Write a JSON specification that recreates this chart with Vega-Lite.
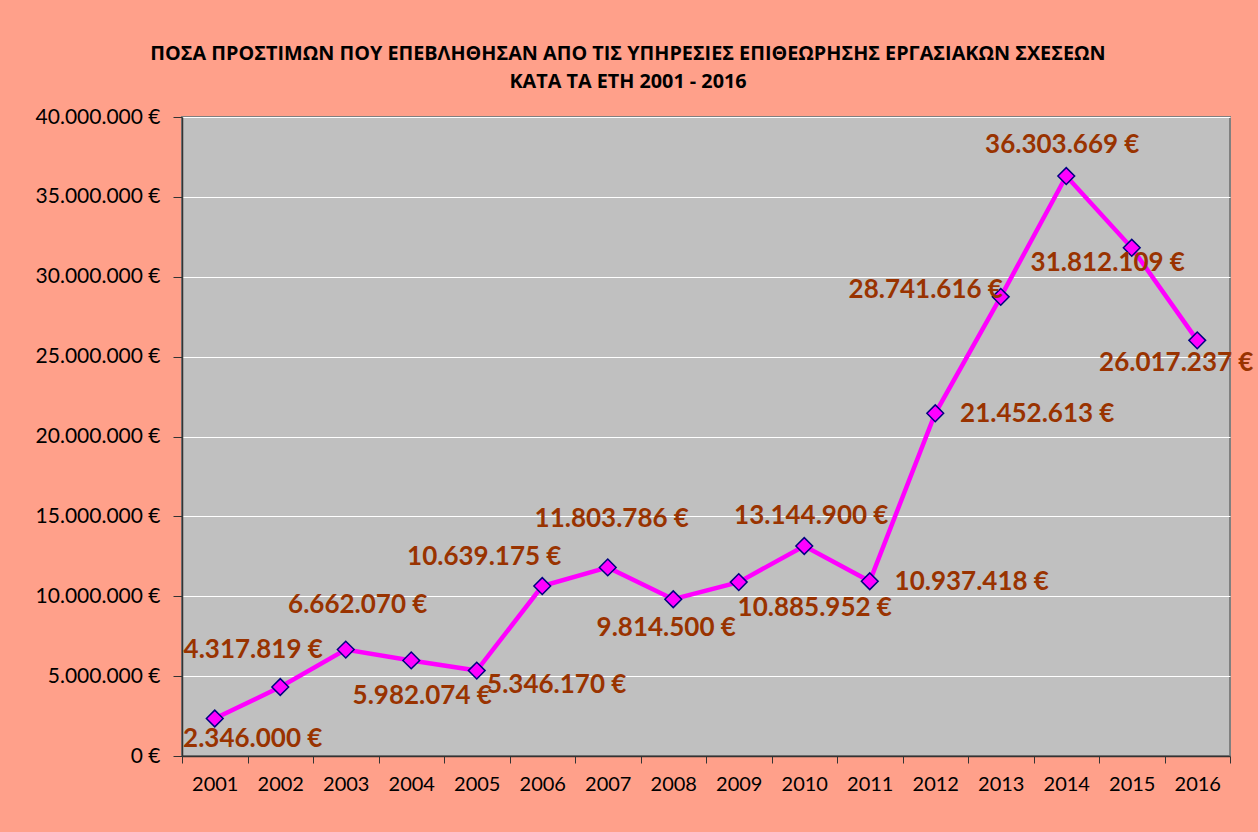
{
  "$schema": "https://vega.github.io/schema/vega-lite/v6.json",
  "width": 1048,
  "height": 639,
  "autosize": {"type": "none"},
  "padding": {"left": 182, "top": 117, "right": 28, "bottom": 76},
  "background": "#FFA08A",
  "config": {
    "locale": {"number": {"decimal": ",", "thousands": ".", "grouping": [3], "currency": ["", " €"]}},
    "view": {"fill": "#C0C0C0", "stroke": "#808080", "strokeWidth": 2},
    "font": "Lato"
  },
  "title": {
    "text": ["ΠΟΣΑ ΠΡΟΣΤΙΜΩΝ ΠΟΥ ΕΠΕΒΛΗΘΗΣΑΝ ΑΠΟ ΤΙΣ ΥΠΗΡΕΣΙΕΣ ΕΠΙΘΕΩΡΗΣΗΣ ΕΡΓΑΣΙΑΚΩΝ ΣΧΕΣΕΩΝ", "ΚΑΤΑ ΤΑ ΕΤΗ 2001 - 2016"],
    "font": "Open Sans",
    "fontSize": 19.8,
    "fontWeight": "bold",
    "color": "#000000",
    "frame": "group",
    "anchor": "middle",
    "dx": -78,
    "offset": 14,
    "lineHeight": 28
  },
  "data": {
    "values": [
      {"year": "2001", "amount": 2346000, "label": "2.346.000 €"},
      {"year": "2002", "amount": 4317819, "label": "4.317.819 €"},
      {"year": "2003", "amount": 6662070, "label": "6.662.070 €"},
      {"year": "2004", "amount": 5982074, "label": "5.982.074 €"},
      {"year": "2005", "amount": 5346170, "label": "5.346.170 €"},
      {"year": "2006", "amount": 10639175, "label": "10.639.175 €"},
      {"year": "2007", "amount": 11803786, "label": "11.803.786 €"},
      {"year": "2008", "amount": 9814500, "label": "9.814.500 €"},
      {"year": "2009", "amount": 10885952, "label": "10.885.952 €"},
      {"year": "2010", "amount": 13144900, "label": "13.144.900 €"},
      {"year": "2011", "amount": 10937418, "label": "10.937.418 €"},
      {"year": "2012", "amount": 21452613, "label": "21.452.613 €"},
      {"year": "2013", "amount": 28741616, "label": "28.741.616 €"},
      {"year": "2014", "amount": 36303669, "label": "36.303.669 €"},
      {"year": "2015", "amount": 31812109, "label": "31.812.109 €"},
      {"year": "2016", "amount": 26017237, "label": "26.017.237 €"}
    ]
  },
  "encoding": {
    "x": {
      "field": "year", "type": "ordinal", "bandPosition": 0.5,
      "scale": {"type": "band", "paddingInner": 0, "paddingOuter": 0},
      "axis": {"title": null, "labelAngle": 0, "tickBand": "extent", "labelFont": "Lato", "labelFontSize": 20, "labelColor": "#000000", "labelPadding": 11, "tickSize": 7, "tickColor": "#333333", "domainColor": "#333333", "domainWidth": 1.5, "grid": false}
    },
    "y": {
      "field": "amount", "type": "quantitative",
      "scale": {"domain": [0, 40000000], "nice": false},
      "axis": {"title": null, "values": [0, 5000000, 10000000, 15000000, 20000000, 25000000, 30000000, 35000000, 40000000], "format": ",.0f", "labelExpr": "datum.label + ' €'", "labelFont": "Lato", "labelFontSize": 21, "labelColor": "#000000", "labelPadding": 13, "tickSize": 9, "tickColor": "#333333", "domainColor": "#333333", "domainWidth": 1.5, "grid": true, "gridColor": "#FFFFFF", "gridWidth": 1.2}
    }
  },
  "layer": [
    {"mark": {"type": "line", "color": "#FF00FF", "strokeWidth": 4.5}},
    {"mark": {"type": "point", "shape": "diamond", "filled": true, "fill": "#FF00FF", "stroke": "#000080", "strokeWidth": 1.5, "size": 280, "opacity": 1}},
    {"transform": [{"filter": "datum.year == '2001'"}], "mark": {"type": "text", "dx": 38, "dy": 20, "fontSize": 26, "fontWeight": "bold", "color": "#993300", "font": "Lato"}, "encoding": {"text": {"field": "label"}}},
    {"transform": [{"filter": "datum.year == '2002'"}], "mark": {"type": "text", "dx": -27, "dy": -37, "fontSize": 26, "fontWeight": "bold", "color": "#993300", "font": "Lato"}, "encoding": {"text": {"field": "label"}}},
    {"transform": [{"filter": "datum.year == '2003'"}], "mark": {"type": "text", "dx": 12, "dy": -45, "fontSize": 26, "fontWeight": "bold", "color": "#993300", "font": "Lato"}, "encoding": {"text": {"field": "label"}}},
    {"transform": [{"filter": "datum.year == '2004'"}], "mark": {"type": "text", "dx": 11, "dy": 36, "fontSize": 26, "fontWeight": "bold", "color": "#993300", "font": "Lato"}, "encoding": {"text": {"field": "label"}}},
    {"transform": [{"filter": "datum.year == '2005'"}], "mark": {"type": "text", "dx": 80, "dy": 14, "fontSize": 26, "fontWeight": "bold", "color": "#993300", "font": "Lato"}, "encoding": {"text": {"field": "label"}}},
    {"transform": [{"filter": "datum.year == '2006'"}], "mark": {"type": "text", "dx": -58, "dy": -29, "fontSize": 26, "fontWeight": "bold", "color": "#993300", "font": "Lato"}, "encoding": {"text": {"field": "label"}}},
    {"transform": [{"filter": "datum.year == '2007'"}], "mark": {"type": "text", "dx": 4, "dy": -48, "fontSize": 26, "fontWeight": "bold", "color": "#993300", "font": "Lato"}, "encoding": {"text": {"field": "label"}}},
    {"transform": [{"filter": "datum.year == '2008'"}], "mark": {"type": "text", "dx": -7, "dy": 29, "fontSize": 26, "fontWeight": "bold", "color": "#993300", "font": "Lato"}, "encoding": {"text": {"field": "label"}}},
    {"transform": [{"filter": "datum.year == '2009'"}], "mark": {"type": "text", "dx": 76, "dy": 26, "fontSize": 26, "fontWeight": "bold", "color": "#993300", "font": "Lato"}, "encoding": {"text": {"field": "label"}}},
    {"transform": [{"filter": "datum.year == '2010'"}], "mark": {"type": "text", "dx": 7, "dy": -30, "fontSize": 26, "fontWeight": "bold", "color": "#993300", "font": "Lato"}, "encoding": {"text": {"field": "label"}}},
    {"transform": [{"filter": "datum.year == '2011'"}], "mark": {"type": "text", "dx": 102, "dy": 1, "fontSize": 26, "fontWeight": "bold", "color": "#993300", "font": "Lato"}, "encoding": {"text": {"field": "label"}}},
    {"transform": [{"filter": "datum.year == '2012'"}], "mark": {"type": "text", "dx": 102, "dy": 1, "fontSize": 26, "fontWeight": "bold", "color": "#993300", "font": "Lato"}, "encoding": {"text": {"field": "label"}}},
    {"transform": [{"filter": "datum.year == '2013'"}], "mark": {"type": "text", "dx": -75, "dy": -7, "fontSize": 26, "fontWeight": "bold", "color": "#993300", "font": "Lato"}, "encoding": {"text": {"field": "label"}}},
    {"transform": [{"filter": "datum.year == '2014'"}], "mark": {"type": "text", "dx": -4, "dy": -31, "fontSize": 26, "fontWeight": "bold", "color": "#993300", "font": "Lato"}, "encoding": {"text": {"field": "label"}}},
    {"transform": [{"filter": "datum.year == '2015'"}], "mark": {"type": "text", "dx": -24, "dy": 15, "fontSize": 26, "fontWeight": "bold", "color": "#993300", "font": "Lato"}, "encoding": {"text": {"field": "label"}}},
    {"transform": [{"filter": "datum.year == '2016'"}], "mark": {"type": "text", "dx": -21, "dy": 23, "fontSize": 26, "fontWeight": "bold", "color": "#993300", "font": "Lato"}, "encoding": {"text": {"field": "label"}}}
  ]
}
